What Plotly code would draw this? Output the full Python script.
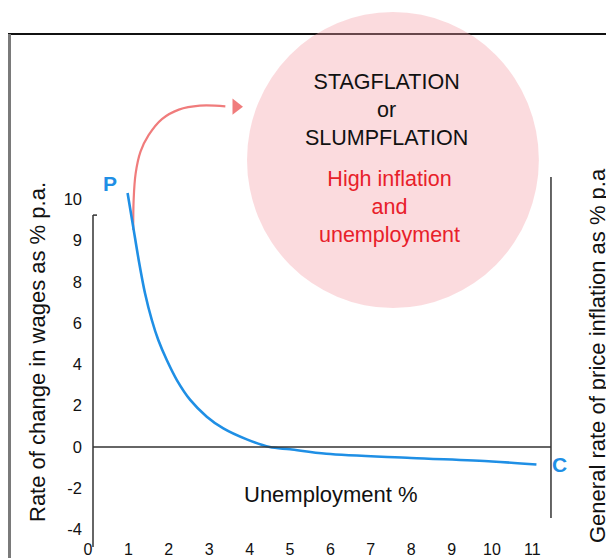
import plotly.graph_objects as go

# ---- data (axis units; y positions are evenly spaced label slots) ----
curve_x = [0.98, 1.12, 1.26, 1.41, 1.58, 1.74, 1.95, 2.2, 2.53, 2.94, 3.35, 3.93, 4.5, 5.0, 5.9, 8.0, 10.0, 11.1]
curve_y = [12.3, 10.65, 9.0, 7.46, 6.15, 5.18, 4.21, 3.24, 2.28, 1.47, 0.9, 0.37, 0.0, -0.11, -0.33, -0.53, -0.7, -0.85]

arrow_x = [1.12, 1.13, 1.18, 1.3, 1.5, 1.83, 2.25, 2.77, 3.4]
arrow_y = [10.51, 11.96, 13.25, 14.3, 15.1, 15.88, 16.34, 16.53, 16.5]

x_ticks = [0, 1, 2, 3, 4, 5, 6, 7, 8, 9, 10, 11]
x_labels = ["0", "1", "2", "3", "4", "5", "6", "7", "8", "9", "10", "11"]
y_ticks = [-4, -2, 0, 2, 4, 6, 8, 10, 12]
y_labels = ["-4", "-2", "0", "2", "4", "6", "8", "9", "10"]

FONT = "Liberation Sans, Arial, sans-serif"
BLUE = "#1f8fe5"
RED = "#e8202a"
AXC = "#333333"
W, H = 606, 550  # page body adds an 8px margin


def px(xp):
    return (xp - 8) / W


def py(yp):
    return 1 - (yp - 8) / H


fig = go.Figure()

# frame lines (paper)
fig.add_shape(type="line", xref="paper", yref="paper", x0=px(8), x1=1, y0=py(34), y1=py(34),
              line=dict(color="#111111", width=2.2), layer="below")
fig.add_shape(type="line", xref="paper", yref="paper", x0=px(9.5), x1=px(9.5), y0=0, y1=py(34),
              line=dict(color="#7a7a7a", width=3), layer="below")

# pink circle
fig.add_shape(type="circle", xref="x", yref="y", x0=3.936, x1=11.16, y0=6.73, y1=21.07,
              fillcolor="rgba(245,160,168,0.38)", line=dict(width=0), layer="above")

# axis lines
fig.add_shape(type="line", x0=0.124, x1=0.124, y0=-4.84, y1=11.23, line=dict(color=AXC, width=1.5))
fig.add_shape(type="line", x0=0.124, x1=0.223, y0=11.23, y1=11.23, line=dict(color=AXC, width=1.5))
fig.add_shape(type="line", x0=0.124, x1=11.46, y0=0, y1=0, line=dict(color=AXC, width=1.5))
fig.add_shape(type="line", x0=11.46, x1=11.46, y0=-3.44, y1=13.08, line=dict(color=AXC, width=1.5))

# red arrow
fig.add_trace(go.Scatter(x=arrow_x, y=arrow_y, mode="lines", line=dict(color="#f07c7c", width=2.2, shape="spline"),
                         hoverinfo="skip", showlegend=False))
fig.add_trace(go.Scatter(x=[3.663], y=[16.48], mode="markers",
                         marker=dict(symbol="triangle-right", size=14, color="#f07c7c"),
                         hoverinfo="skip", showlegend=False))

# Phillips curve
fig.add_trace(go.Scatter(x=curve_x, y=curve_y, mode="lines",
                         line=dict(color=BLUE, width=2.6, shape="spline", smoothing=0.9),
                         hoverinfo="skip", showlegend=False))

# texts
fig.add_annotation(x=7.38, y=16.32, text="STAGFLATION<br>or<br>SLUMPFLATION", showarrow=False,
                   font=dict(family=FONT, size=21.5, color="#111111"))
fig.add_annotation(x=7.475, y=11.62, text="High inflation<br>and<br>unemployment", showarrow=False,
                   font=dict(family=FONT, size=21.5, color=RED))
fig.add_annotation(x=6.01, y=-2.28, text="Unemployment %", showarrow=False,
                   font=dict(family=FONT, size=22, color="#111111"))
fig.add_annotation(x=0.545, y=12.78, text="<b>P</b>", showarrow=False,
                   font=dict(family=FONT, size=21, color=BLUE))
fig.add_annotation(x=11.68, y=-0.87, text="<b>C</b>", showarrow=False,
                   font=dict(family=FONT, size=21, color=BLUE))
fig.add_annotation(xref="paper", yref="paper", x=px(37), y=py(352), xanchor="center", yanchor="middle",
                   text="Rate of change in wages as % p.a.",
                   textangle=-90, showarrow=False, font=dict(family=FONT, size=22, color="#111111"))
fig.add_annotation(xref="paper", yref="paper", x=px(597), y=py(356), xanchor="center", yanchor="middle",
                   text="General rate of price inflation as % p.a",
                   textangle=-90, showarrow=False, font=dict(family=FONT, size=22, color="#111111"))

fig.update_layout(
    width=W, height=H,
    margin=dict(l=0, r=0, t=0, b=0),
    paper_bgcolor="white", plot_bgcolor="white",
    showlegend=False,
    xaxis=dict(range=[-1.980, 13.02], domain=[0, 1], anchor="free", position=py(538),
               tickmode="array", tickvals=x_ticks, ticktext=x_labels, ticks="",
               showgrid=False, zeroline=False, showline=False,
               tickfont=dict(family=FONT, size=16, color="#111111")),
    yaxis=dict(range=[-5.375, 21.26], domain=[0, 1], anchor="free", position=px(88),
               tickmode="array", tickvals=y_ticks, ticktext=y_labels, ticks="",
               ticklabelstandoff=6,
               showgrid=False, zeroline=False, showline=False,
               tickfont=dict(family=FONT, size=16.5, color="#111111")),
)

fig.write_html("out.html")
